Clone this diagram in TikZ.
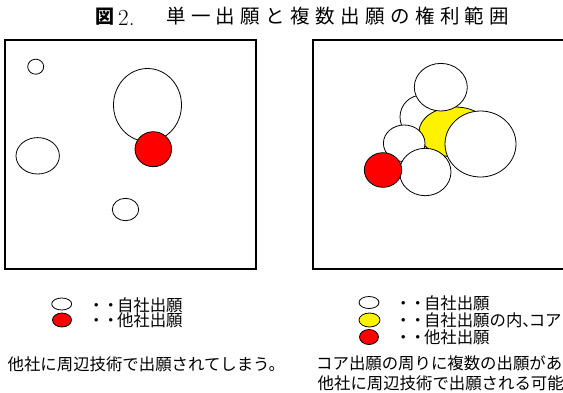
\documentclass[tikz,border=0pt]{standalone}
\usepackage{fontspec}
\newfontfamily\cjk{Noto Sans CJK JP}
\newcommand\legdots{・\kern-2pt・\kern-2pt}
\newcommand\tk{\kern5.4pt}
\tikzset{
  panel/.style={draw, line width=2pt},
  app/.style={draw, line width=0.8pt, fill=white},
  rival/.style={app, fill=red},
  core/.style={app, fill=yellow},
  txt/.style={anchor=west, inner sep=0pt, font=\cjk\fontsize{16.4}{18}\selectfont},
  ttl/.style={anchor=west, inner sep=0pt, font=\cjk\fontsize{19.5}{21}\selectfont}
}
\begin{document}
\begin{tikzpicture}[x=1pt,y=-1pt]
\useasboundingbox (0,0) rectangle (563,392);
\fill[white] (0,0) rectangle (563,392);
% title
\node[ttl, font=\cjk\bfseries\fontsize{19}{21}\selectfont] (t1) at (95.5,16.5) {図};
\node[anchor=west, inner sep=0pt, font=\fontsize{23}{24}\selectfont] (t2) at (118,17.5) {2.};
\node[ttl] (t3) at (166,16.5) {単\tk 一\tk 出\tk 願\tk と\tk 複\tk 数\tk 出\tk 願\tk の\tk 権\tk 利\tk 範\tk 囲};
% left panel
\draw[panel] (4.5,39.5) rectangle (256,269);
\draw[app] (35.7,66.7) ellipse [x radius=8pt, y radius=7.5pt];
\draw[app] (147.5,105) ellipse [x radius=34pt, y radius=36.5pt];
\draw[rival] (153.3,149.2) ellipse [x radius=18.3pt, y radius=17.5pt];
\draw[app] (37.7,155.8) ellipse [x radius=21.7pt, y radius=18.2pt];
\draw[app] (125.5,209.5) ellipse [x radius=13.2pt, y radius=11.2pt];
% right panel
\draw[panel] (313,40) rectangle (600,269);
\draw[app] (422,117) ellipse [x radius=22pt, y radius=22pt];
\draw[core] (455,132) ellipse [x radius=36pt, y radius=25pt];
\draw[app] (440.8,87.2) ellipse [x radius=26.5pt, y radius=23.8pt];
\draw[app] (404.2,143.3) ellipse [x radius=20.8pt, y radius=18.3pt];
\draw[app] (480.5,144) ellipse [x radius=35.5pt, y radius=33pt];
\draw[app] (425.2,172) ellipse [x radius=25.8pt, y radius=23.7pt];
\draw[rival] (383,170) ellipse [x radius=18.7pt, y radius=17.3pt];
% left legend
\draw[app] (61.7,304) ellipse [x radius=10pt, y radius=6pt];
\draw[rival] (62,320) ellipse [x radius=9.5pt, y radius=7pt];
\node[txt] (l1) at (88,305) {\legdots 自社出願};
\node[txt] (l2) at (88,320.5) {\legdots 他社出願};
\node[txt] (l3) at (7.5,364) {他社に周辺技術で出願されてしまう。};
% right legend
\draw[app] (369,302.5) ellipse [x radius=10pt, y radius=6pt];
\draw[core] (369.5,320) ellipse [x radius=10.5pt, y radius=7pt];
\draw[rival] (369,337) ellipse [x radius=9.5pt, y radius=7.5pt];
\node[txt] (r1) at (395,303) {\legdots 自社出願};
\node[txt] (r2) at (395,320) {\legdots 自社出願の内、\kern-10pt コア};
\node[txt] (r3) at (395,337) {\legdots 他社出願};
\node[txt] (r4) at (316,363.5) {コア出願の周りに複数の出願があ};
\node[txt] (r5) at (317.5,383.5) {他社に周辺技術で出願される可能};
\end{tikzpicture}
\end{document}
